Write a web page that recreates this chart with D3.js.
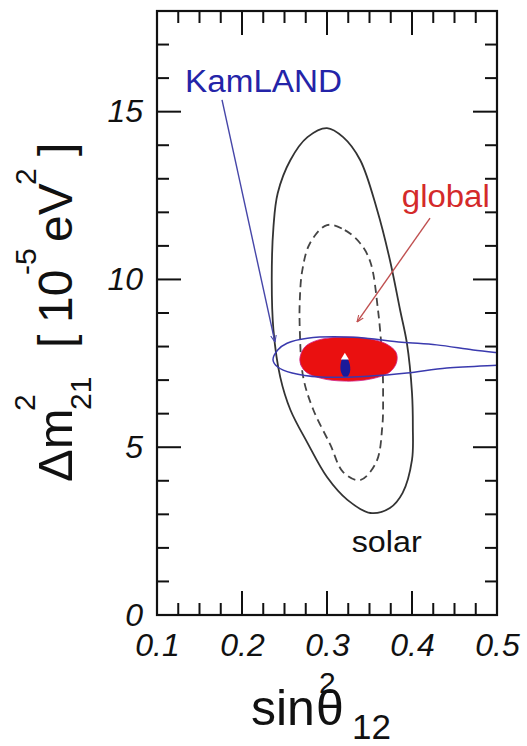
<!DOCTYPE html>
<html>
<head>
<meta charset="utf-8">
<script src="https://cdn.jsdelivr.net/npm/d3@7"></script>
<style>
  body { margin: 0; background: #fff; }
  svg { display: block; font-family: "Liberation Sans", Arial, sans-serif; }
</style>
</head>
<body>
<svg width="527" height="746"></svg>
<script>
// contours: [sin^2 theta12, dm^2_21 (1e-5 eV^2)]
const solarOuter = [
  [0.300, 14.51], [0.319, 14.24], [0.339, 13.56], [0.359, 12.07], [0.374, 10.58],
  [0.386, 9.09], [0.394, 8.10], [0.400, 6.62], [0.401, 5.60], [0.400, 4.62],
  [0.389, 3.64], [0.374, 3.19], [0.351, 3.04], [0.324, 3.43], [0.300, 4.11],
  [0.277, 5.13], [0.257, 6.11], [0.245, 7.09], [0.237, 8.49], [0.235, 9.98],
  [0.237, 11.56], [0.242, 12.57], [0.257, 13.56], [0.277, 14.24]
];
const solarInner = [
  [0.300, 11.62], [0.321, 11.47], [0.339, 11.08], [0.351, 10.52], [0.360, 9.09],
  [0.365, 7.60], [0.366, 6.62], [0.365, 5.60], [0.358, 4.56], [0.339, 4.02],
  [0.319, 4.26], [0.304, 5.07], [0.284, 6.11], [0.272, 7.09], [0.268, 8.49],
  [0.268, 9.39], [0.271, 10.28], [0.280, 11.08]
];
const globalRegion = [
  [0.268, 7.60], [0.274, 7.99], [0.289, 8.19], [0.315, 8.28], [0.345, 8.25],
  [0.368, 8.10], [0.381, 7.84], [0.382, 7.54], [0.374, 7.24], [0.351, 7.03],
  [0.321, 6.97], [0.292, 7.06], [0.274, 7.27]
];
const globalInner = [
  [0.321, 7.72], [0.326, 7.54], [0.327, 7.24], [0.322, 7.06], [0.3165, 7.24], [0.3165, 7.54]
];
const bestFit = [0.321, 7.68];
const kamland = [
  [0.2365, 7.60], [0.242, 7.90], [0.253, 8.10], [0.277, 8.25], [0.331, 8.28],
  [0.388, 8.13], [0.429, 8.05], [0.472, 7.90], [0.504, 7.81], [0.527, 7.75],
  [0.527, 7.48], [0.504, 7.45], [0.441, 7.36], [0.394, 7.21], [0.351, 7.12],
  [0.292, 7.09], [0.259, 7.21], [0.242, 7.39]
];

// annotations: label position and arrow [from, to]
const labels = [
  {text: 'KamLAND', at: [0.133, 15.58], color: '#2424a8', size: 31, width: 157},
  {text: 'global', at: [0.388, 12.16], color: '#d42a2a', size: 31, width: 88},
  {text: 'solar', at: [0.329, 1.88], color: '#111', size: 30, width: 70}
];
const arrows = [
  {from: [0.1765, 15.35], to: [0.2388, 8.13], color: '#4646a8'},
  {from: [0.4212, 11.83], to: [0.3353, 8.73], color: '#c05050'}
];

const xMajor = [0.1, 0.2, 0.3, 0.4, 0.5];
const xMinor = d3.range(0.1, 0.5001, 0.025);
const yMajor = [0, 5, 10, 15];
const yMinor = d3.range(0, 18.001, 1);

const svg = d3.select('svg');
const pLeft = 157, pRight = 497, pTop = 11, pBottom = 615;

const x = d3.scaleLinear().domain([0.1, 0.5]).range([pLeft, pRight]);
const y = d3.scaleLinear().domain([0, 18]).range([pBottom, pTop]);

const defs = svg.append('defs');
defs.append('clipPath').attr('id', 'plotclip')
  .append('rect').attr('x', pLeft).attr('y', pTop)
  .attr('width', pRight - pLeft).attr('height', pBottom - pTop);

arrows.forEach((a, i) => {
  defs.append('marker')
    .attr('id', 'head' + i)
    .attr('viewBox', '0 -5 10 10')
    .attr('refX', 10).attr('refY', 0)
    .attr('markerWidth', 7).attr('markerHeight', 7)
    .attr('markerUnits', 'userSpaceOnUse')
    .attr('orient', 'auto')
    .append('path')
    .attr('d', 'M0,-4L10,0L0,4')
    .attr('fill', 'none')
    .attr('stroke', a.color)
    .attr('stroke-width', 1.5);
});

const contour = d3.line()
  .x((d) => x(d[0]))
  .y((d) => y(d[1]))
  .curve(d3.curveCatmullRomClosed.alpha(0.5));

const plot = svg.append('g').attr('clip-path', 'url(#plotclip)');

// solar regions
plot.append('path').datum(solarOuter)
  .attr('d', contour).attr('fill', 'none')
  .attr('stroke', '#333').attr('stroke-width', 1.8);
plot.append('path').datum(solarInner)
  .attr('d', contour).attr('fill', 'none')
  .attr('stroke', '#444').attr('stroke-width', 1.8)
  .attr('stroke-dasharray', '8,5');

// global fit
plot.append('path').datum(globalRegion)
  .attr('d', contour).attr('fill', '#ea1010')
  .attr('stroke', '#d0208a').attr('stroke-width', 0.8);
plot.append('path').datum(globalInner)
  .attr('d', contour).attr('fill', '#1a1a9a');
plot.append('path')
  .attr('d', d3.symbol(d3.symbolTriangle, 28)())
  .attr('transform', `translate(${x(bestFit[0])},${y(bestFit[1])})`)
  .attr('fill', '#fff');

// KamLAND
plot.append('path').datum(kamland)
  .attr('d', contour).attr('fill', 'none')
  .attr('stroke', '#3a3aae').attr('stroke-width', 1.5);

// arrows
arrows.forEach((a, i) => {
  svg.append('line')
    .attr('x1', x(a.from[0])).attr('y1', y(a.from[1]))
    .attr('x2', x(a.to[0])).attr('y2', y(a.to[1]))
    .attr('stroke', a.color).attr('stroke-width', 1.4)
    .attr('marker-end', `url(#head${i})`);
});

labels.forEach((l) => {
  svg.append('text')
    .attr('x', x(l.at[0])).attr('y', y(l.at[1]))
    .attr('fill', l.color)
    .attr('font-size', l.size)
    .attr('textLength', l.width)
    .attr('lengthAdjust', 'spacingAndGlyphs')
    .text(l.text);
});

// inward ticks on all four sides, placed with the scales
const xTicks = xMinor.map((v) => ({v, len: xMajor.some((m) => Math.abs(m - v) < 1e-9) ? 24 : 12}));
const yTicks = yMinor.map((v) => ({v, len: yMajor.includes(v) ? 24 : 12}));
const tickG = svg.append('g').attr('stroke', '#111').attr('stroke-width', 2);
[[pBottom, -1], [pTop, 1]].forEach(([base, dir]) => {
  tickG.append('g').selectAll('line').data(xTicks).join('line')
    .attr('x1', (d) => x(d.v)).attr('x2', (d) => x(d.v))
    .attr('y1', base).attr('y2', (d) => base + dir * d.len);
});
[[pLeft, 1], [pRight, -1]].forEach(([base, dir]) => {
  tickG.append('g').selectAll('line').data(yTicks).join('line')
    .attr('y1', (d) => y(d.v)).attr('y2', (d) => y(d.v))
    .attr('x1', base).attr('x2', (d) => base + dir * d.len);
});

// tick labels through d3 axes
const labelStyle = (g) => {
  g.select('.domain').remove();
  g.selectAll('.tick line').remove();
  g.selectAll('text')
    .attr('font-size', 32).attr('font-style', 'italic').attr('fill', '#111')
    .attr('font-family', 'Liberation Sans, Arial, sans-serif');
};
svg.append('g').attr('transform', `translate(0,${pBottom})`)
  .call(d3.axisBottom(x).tickValues(xMajor).tickSize(0).tickPadding(18).tickFormat((d) => String(d)))
  .call(labelStyle);
svg.append('g').attr('transform', `translate(${pLeft},0)`)
  .call(d3.axisLeft(y).tickValues(yMajor).tickSize(0).tickPadding(14).tickFormat((d) => String(d)))
  .call(labelStyle);

svg.append('rect')
  .attr('x', pLeft).attr('y', pTop)
  .attr('width', pRight - pLeft).attr('height', pBottom - pTop)
  .attr('fill', 'none').attr('stroke', '#111').attr('stroke-width', 2.2);

// x title: sin^2 theta_12
const xt = svg.append('g').attr('fill', '#111');
xt.append('text').attr('x', 251).attr('y', 725).attr('font-size', 50).text('sin');
xt.append('text').attr('x', 319).attr('y', 693).attr('font-size', 30).text('2');
xt.append('text').attr('x', 316).attr('y', 725).attr('font-size', 50).text('θ');
xt.append('text').attr('x', 352).attr('y', 739).attr('font-size', 35).text('12');

// y title: dm^2_21 [ 10^-5 eV^2 ]
const yt = svg.append('g').attr('fill', '#111')
  .attr('transform', 'translate(72,482) rotate(-90)');
const yParts = [
  {t: 'Δm', x: 0, y: 0, s: 49},
  {t: '2', x: 71, y: -37, s: 30},
  {t: '21', x: 72, y: 19, s: 30},
  {t: '[', x: 134, y: 0, s: 48},
  {t: '10', x: 159, y: 0, s: 48},
  {t: '-5', x: 207, y: -36, s: 30},
  {t: 'eV', x: 240, y: 0, s: 48},
  {t: '2', x: 297, y: -36, s: 30},
  {t: ']', x: 326, y: 0, s: 48}
];
yt.selectAll('text').data(yParts).join('text')
  .attr('x', (d) => d.x).attr('y', (d) => d.y)
  .attr('font-size', (d) => d.s).text((d) => d.t);
</script>
</body>
</html>
